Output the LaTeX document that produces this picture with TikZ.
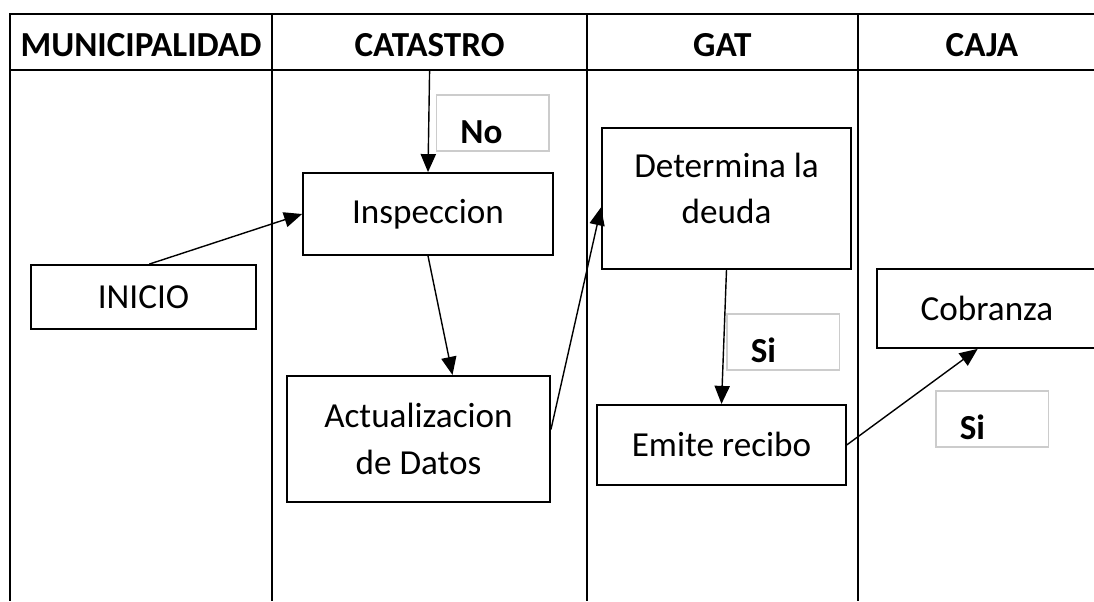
\documentclass[tikz,border=0pt]{standalone}
\usepackage{fontspec}
\setmainfont{Carlito}
\usetikzlibrary{positioning,arrows.meta}

\begin{document}
\begin{tikzpicture}[
  font=\fontsize{25}{33}\selectfont,
  lane/.style={line width=1.6pt},
  lanehead/.style={font=\fontsize{25}{33}\selectfont\bfseries, minimum height=1.25cm, inner sep=0pt},
  stepbox/.style={draw, line width=1.3pt, align=center, inner sep=0pt},
  tagbox/.style={draw=gray!40, line width=1.1pt, font=\fontsize{25}{33}\selectfont\bfseries,
    anchor=north west, inner xsep=0.6cm, inner ysep=0pt, text width=1.62cm, align=left,
    text height=1.225cm, text depth=0.175cm},
  flow/.style={line width=1pt, -{Triangle[length=0.45cm, width=0.38cm]}}
]
\useasboundingbox (0,0) rectangle (27.35,-15.025);

\draw[lane] (27.35,-0.35) -- (0.25,-0.35) -- (0.25,-15.025);
\draw[lane] (0.25,-1.75) -- (27.35,-1.75);
\draw[lane] (6.8,-0.35) -- (6.8,-15.025);
\draw[lane] (14.675,-0.35) -- (14.675,-15.025);
\draw[lane] (21.45,-0.35) -- (21.45,-15.025);

\node[lanehead] (municipalidad) at (3.525,-1.125) {MUNICIPALIDAD};
\node[lanehead] (catastro) at (10.74,-1.125) {CATASTRO};
\node[lanehead] (gat) at (18.06,-1.125) {GAT};
\node[lanehead] (caja) at (24.55,-1.125) {CAJA};

\node[stepbox, minimum width=5.625cm, minimum height=1.6cm] (inicio) at (3.5875,-7.425) {INICIO};
\node[stepbox, minimum width=6.25cm, minimum height=2.05cm] (insp) at (10.7,-5.35) {Inspeccion};
\node[stepbox, minimum width=6.575cm, minimum height=3.15cm, below=2.975cm of insp, xshift=-0.2375cm] (act) {Actualizacion\\de Datos};
\node[stepbox, minimum width=6.225cm, minimum height=3.525cm, text depth=0.5cm] (det) at (18.1625,-4.9625) {Determina la\\deuda};
\node[stepbox, minimum width=6.225cm, minimum height=2cm, below=3.35cm of det, xshift=-0.125cm] (emite) {Emite recibo};
\node[stepbox, minimum width=5.5cm, minimum height=1.975cm] (cob) at (24.675,-7.7125) {Cobranza};

\node[tagbox] (no) at (10.89,-2.35) {No};
\node[tagbox] (si) at (18.15,-7.825) {Si};
\node[tagbox] (sicaja) at (23.375,-9.75) {Si};

\draw[flow] (inicio.80) -- (insp.west);
\draw[flow] (catastro.south) -- (insp.north);
\draw[flow] (insp.south) -- (act.62);
\draw[flow] (act.4) -- (det.184);
\draw[flow] (det.south) -- (emite.north);
\draw[flow] (emite.east) -- (cob.257);

\end{tikzpicture}
\end{document}
